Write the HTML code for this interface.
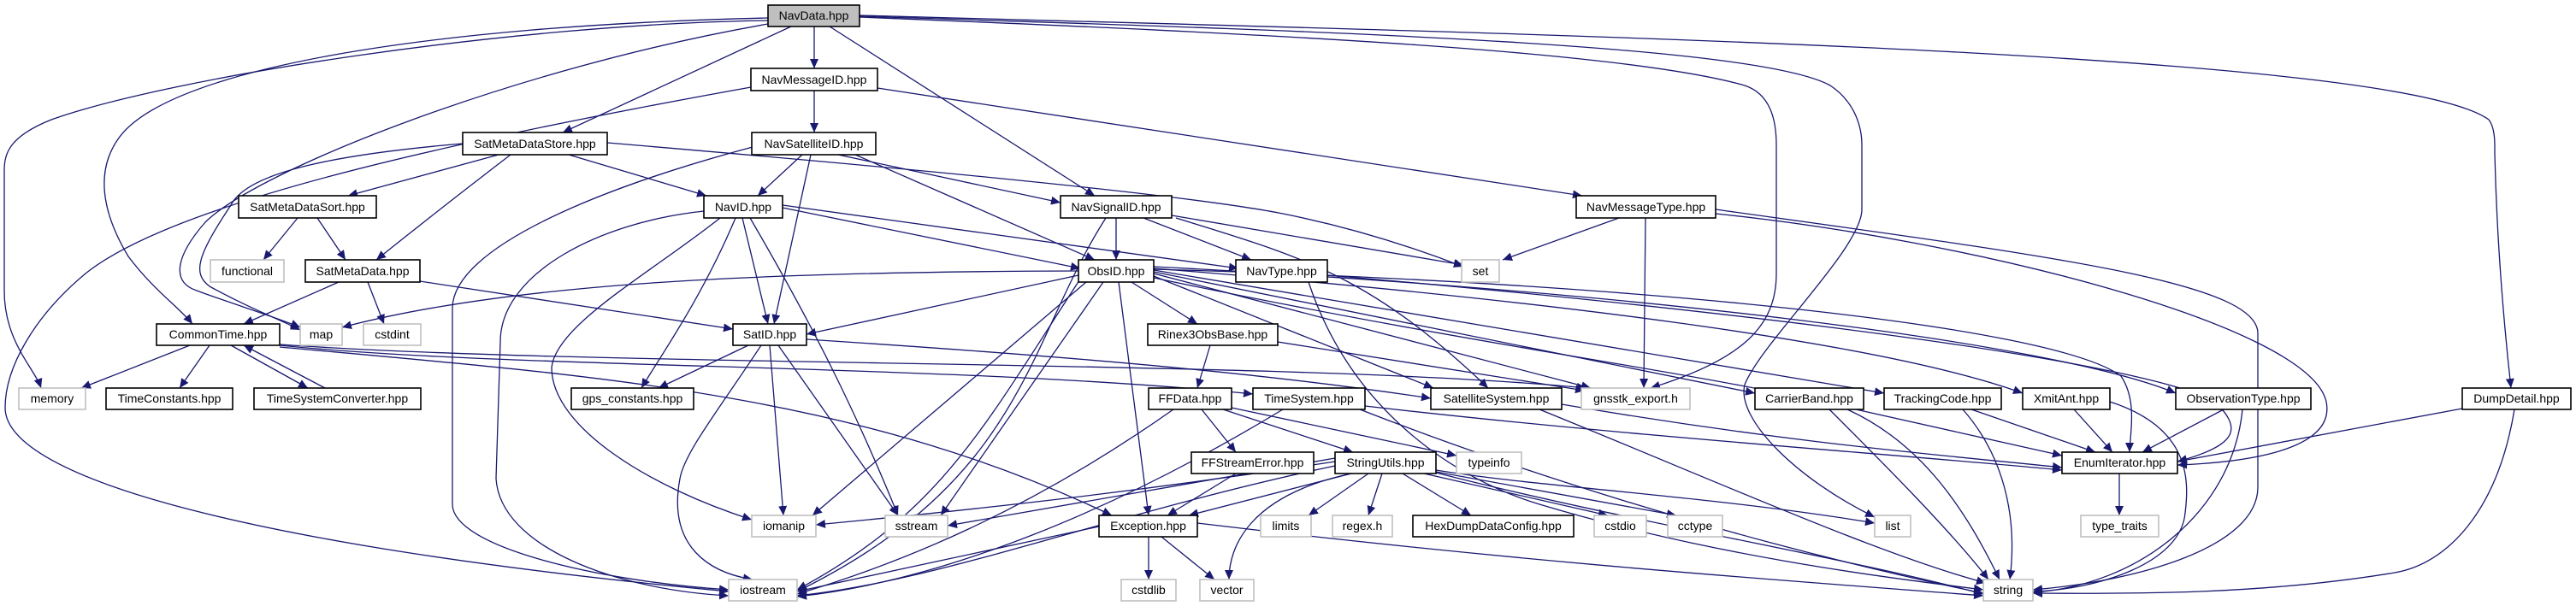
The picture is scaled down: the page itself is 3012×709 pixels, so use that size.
<!DOCTYPE html>
<html><head><meta charset="utf-8"><style>
html,body{margin:0;padding:0;background:#fff;width:3012px;height:709px;overflow:hidden}
svg{display:block}
text{font-family:"Liberation Sans","DejaVu Sans",sans-serif;font-size:14px;fill:#000}
.e{fill:none;stroke:#191970;stroke-width:1.3;marker-end:url(#a)}
.n{fill:#fff;stroke:#000;stroke-width:1.6}
.g{fill:#fff;stroke:#bfbfbf;stroke-width:1.6}
</style></head><body>
<svg width="3012" height="709" viewBox="0 0 3012 709" xmlns="http://www.w3.org/2000/svg">
<defs><marker id="a" markerUnits="userSpaceOnUse" markerWidth="12" markerHeight="10" refX="11" refY="5" orient="auto"><path d="M0,0 L11,5 L0,10 z" fill="#191970"/></marker></defs>
<g>
<!-- NavData -->
<path class="e" d="M898,24 C600,28 200,90 60,140 C10,160 5,180 5,200 L5,340 C5,400 40,430 48,454"/>
<path class="e" d="M898,21 C500,30 200,80 140,160 C110,200 120,250 150,300 C180,340 210,360 225,379"/>
<path class="e" d="M898,28 C600,80 300,200 240,260 C205,300 200,330 230,340 C270,355 320,370 351,383"/>
<path class="e" d="M925,31 L658,155"/>
<path class="e" d="M952,31 L952,80"/>
<path class="e" d="M970,31 L1280,229"/>
<path class="e" d="M1005,20 C1500,40 1900,60 2040,100 C2070,110 2077,140 2077,170 L2077,320 C2077,380 2040,420 1930,454"/>
<path class="e" d="M1005,19 C1500,35 2050,50 2140,100 C2170,120 2177,150 2177,170 L2177,245 C2177,290 2060,400 2040,450 C2030,490 2100,560 2192,605"/>
<path class="e" d="M1005,18 C1800,40 2800,60 2910,140 C2918,150 2917,170 2917,180 C2920,300 2930,400 2936,454"/>
<!-- NavMessageID -->
<path class="e" d="M952,106 L952,155"/>
<path class="e" d="M1026,103 L1850,229"/>
<path class="e" d="M878,102 C500,170 200,240 100,320 C40,370 6,430 6,477 C6,560 300,640 852,692"/>
<!-- SatMetaDataStore -->
<path class="e" d="M583,181 L407,229"/>
<path class="e" d="M597,181 C520,240 470,280 440,304"/>
<path class="e" d="M665,181 L826,229"/>
<path class="e" d="M710,167 C1100,200 1400,230 1500,250 C1600,270 1680,300 1711,312"/>
<path class="e" d="M541,168 C400,180 290,200 270,240 C230,300 225,320 245,335 C290,360 330,375 351,386"/>
<!-- NavSatelliteID -->
<path class="e" d="M938,181 L886,229"/>
<path class="e" d="M948,181 L905,379"/>
<path class="e" d="M980,181 L1240,237"/>
<path class="e" d="M1000,181 L1280,304"/>
<path class="e" d="M880,172 C700,220 530,290 529,360 L529,590 C529,640 700,680 852,690"/>
<!-- SatMetaDataSort / SatMetaData -->
<path class="e" d="M348,255 L308,304"/>
<path class="e" d="M371,255 L404,304"/>
<path class="e" d="M396,330 L285,379"/>
<path class="e" d="M430,330 L449,379"/>
<path class="e" d="M491,329 L857,385"/>
<!-- NavID -->
<path class="e" d="M915,243 L1263,314"/>
<path class="e" d="M915,240 L1448,314"/>
<path class="e" d="M868,255 L898,379"/>
<path class="e" d="M860,255 C820,350 770,420 750,454"/>
<path class="e" d="M842,255 C760,320 650,380 645,430 C645,500 760,570 879,608"/>
<path class="e" d="M823,247 C700,260 585,320 585,400 L580,560 C585,640 720,690 852,697"/>
<path class="e" d="M877,255 C950,380 1000,480 1050,603"/>
<!-- SatID -->
<path class="e" d="M875,404 L770,454"/>
<path class="e" d="M900,404 L916,603"/>
<path class="e" d="M890,404 C840,480 800,530 795,560 C780,640 830,670 880,678"/>
<path class="e" d="M910,404 L1050,603"/>
<path class="e" d="M943,397 C1300,420 1500,440 1673,466"/>
<!-- CommonTime -->
<path class="e" d="M222,404 L95,454"/>
<path class="e" d="M245,404 L210,454"/>
<path class="e" d="M270,404 L360,454"/>
<path class="e" d="M380,454 L285,404"/>
<path class="e" d="M327,404 C600,432 1100,425 1465,461"/>
<path class="e" d="M327,406 C700,440 1000,460 1300,603"/>
<path class="e" d="M327,403 C700,430 1500,420 1855,454"/>
<!-- NavSignalID -->
<path class="e" d="M1305,255 L1305,304"/>
<path class="e" d="M1337,255 L1463,304"/>
<path class="e" d="M1370,252 L1711,310"/>
<path class="e" d="M1375,255 C1520,300 1600,320 1740,454"/>
<path class="e" d="M1293,255 C1200,400 1200,560 932,692"/>
<!-- NavMessageType -->
<path class="e" d="M1893,255 L1757,304"/>
<path class="e" d="M1924,255 L1922,454"/>
<path class="e" d="M2006,250 C2300,280 2700,380 2720,470 C2730,520 2650,540 2546,544"/>
<path class="e" d="M2006,245 C2400,300 2640,330 2640,390 L2640,570 C2640,640 2500,680 2377,690"/>
<!-- ObsID -->
<path class="e" d="M1261,317 C900,318 600,330 400,383"/>
<path class="e" d="M1261,322 L943,391"/>
<path class="e" d="M1323,330 L1400,379"/>
<path class="e" d="M1308,330 L1343,603"/>
<path class="e" d="M1290,330 L1100,603"/>
<path class="e" d="M1270,330 L950,603"/>
<path class="e" d="M1262,328 C1150,500 1100,600 932,690"/>
<path class="e" d="M1349,320 L1860,454"/>
<path class="e" d="M1349,323 L1676,454"/>
<path class="e" d="M1349,318 L2052,460"/>
<path class="e" d="M1349,316 L2203,460"/>
<path class="e" d="M1349,314 C1800,350 2200,400 2365,460"/>
<path class="e" d="M1349,312 C1900,340 2400,400 2544,460"/>
<path class="e" d="M1349,315 C1900,330 2400,380 2480,440 C2500,470 2490,510 2490,529"/>
<path class="e" d="M1349,325 C1800,420 2100,450 2140,480 C2200,540 2280,620 2325,678"/>
<!-- NavType -->
<path class="e" d="M1552,322 C2000,360 2500,420 2590,470 C2620,500 2620,520 2546,540"/>
<path class="e" d="M1530,330 C1580,480 1700,560 1800,590 C2000,650 2200,675 2319,690"/>
<!-- Rinex3ObsBase -->
<path class="e" d="M1415,404 L1400,454"/>
<path class="e" d="M1494,400 L1853,457"/>
<!-- FFData -->
<path class="e" d="M1405,479 L1445,529"/>
<path class="e" d="M1430,479 L1582,529"/>
<path class="e" d="M1440,477 L1703,533"/>
<path class="e" d="M1372,479 C1200,600 1050,660 932,695"/>
<!-- TimeSystem -->
<path class="e" d="M1500,479 C1300,600 1100,680 932,698"/>
<path class="e" d="M1596,475 C1900,510 2200,530 2411,550"/>
<path class="e" d="M1590,479 C1900,600 2200,670 2319,694"/>
<!-- SatelliteSystem -->
<path class="e" d="M1826,473 C2100,520 2300,535 2411,547"/>
<path class="e" d="M1800,479 C2000,560 2200,650 2322,682"/>
<!-- second-row headers -->
<path class="e" d="M2170,479 L2411,533"/>
<path class="e" d="M2160,479 C2250,520 2300,600 2338,678"/>
<path class="e" d="M2305,479 L2450,529"/>
<path class="e" d="M2295,479 C2340,530 2360,600 2350,678"/>
<path class="e" d="M2425,479 L2470,529"/>
<path class="e" d="M2467,470 C2560,500 2560,560 2555,600 C2550,660 2450,690 2377,692"/>
<path class="e" d="M2600,479 L2505,529"/>
<path class="e" d="M2622,479 C2610,600 2500,685 2377,693"/>
<path class="e" d="M2879,478 L2546,540"/>
<path class="e" d="M2940,479 C2920,600 2860,660 2800,670 C2650,695 2500,695 2377,694"/>
<path class="e" d="M2478,554 L2478,603"/>
<!-- StringUtils -->
<path class="e" d="M1561,536 L1108,615"/>
<path class="e" d="M1580,554 L1390,603"/>
<path class="e" d="M1600,554 L1530,603"/>
<path class="e" d="M1616,554 L1600,603"/>
<path class="e" d="M1640,554 L1720,603"/>
<path class="e" d="M1665,554 L1880,603"/>
<path class="e" d="M1679,552 L1960,603"/>
<path class="e" d="M1679,550 C1800,570 2000,580 2192,612"/>
<path class="e" d="M1679,553 C1900,610 2150,650 2319,695"/>
<path class="e" d="M1580,554 C1460,580 1437,640 1437,678"/>
<path class="e" d="M1561,545 C1300,600 1100,680 932,697"/>
<path class="e" d="M1561,540 C1300,580 1100,600 954,614"/>
<!-- FFStreamError / Exception -->
<path class="e" d="M1445,554 L1365,603"/>
<path class="e" d="M1343,628 L1343,678"/>
<path class="e" d="M1358,628 L1420,678"/>
<path class="e" d="M1400,612 C1800,660 2100,680 2319,697"/>
<path class="e" d="M1285,616 L932,692"/>
</g>
<!-- nodes -->
<g>
<rect x="898" y="6" width="107" height="25" fill="#bfbfbf" stroke="#000" stroke-width="1.6"/><text x="951.5" y="23" text-anchor="middle">NavData.hpp</text>
<rect class="n" x="878" y="80" width="148" height="26"/><text x="952" y="98" text-anchor="middle">NavMessageID.hpp</text>
<rect class="n" x="541" y="155" width="169" height="26"/><text x="625.5" y="173" text-anchor="middle">SatMetaDataStore.hpp</text>
<rect class="n" x="879" y="155" width="145" height="26"/><text x="951.5" y="173" text-anchor="middle">NavSatelliteID.hpp</text>
<rect class="n" x="279" y="229" width="161" height="26"/><text x="359.5" y="247" text-anchor="middle">SatMetaDataSort.hpp</text>
<rect class="n" x="823" y="229" width="92" height="26"/><text x="869" y="247" text-anchor="middle">NavID.hpp</text>
<rect class="n" x="1240" y="229" width="130" height="26"/><text x="1305" y="247" text-anchor="middle">NavSignalID.hpp</text>
<rect class="n" x="1843" y="229" width="163" height="26"/><text x="1924.5" y="247" text-anchor="middle">NavMessageType.hpp</text>
<rect class="g" x="246" y="304" width="86" height="26"/><text x="289" y="322" text-anchor="middle">functional</text>
<rect class="n" x="357" y="304" width="134" height="26"/><text x="424" y="322" text-anchor="middle">SatMetaData.hpp</text>
<rect class="n" x="1261" y="304" width="88" height="26"/><text x="1305" y="322" text-anchor="middle">ObsID.hpp</text>
<rect class="n" x="1445" y="304" width="107" height="26"/><text x="1498.5" y="322" text-anchor="middle">NavType.hpp</text>
<rect class="g" x="1709" y="304" width="44" height="26"/><text x="1731" y="322" text-anchor="middle">set</text>
<rect class="n" x="183" y="379" width="144" height="25"/><text x="255" y="396" text-anchor="middle">CommonTime.hpp</text>
<rect class="g" x="351" y="379" width="49" height="25"/><text x="375.5" y="396" text-anchor="middle">map</text>
<rect class="g" x="425" y="379" width="67" height="25"/><text x="458.5" y="396" text-anchor="middle">cstdint</text>
<rect class="n" x="857" y="379" width="86" height="25"/><text x="900" y="396" text-anchor="middle">SatID.hpp</text>
<rect class="n" x="1342" y="379" width="152" height="25"/><text x="1418" y="396" text-anchor="middle">Rinex3ObsBase.hpp</text>
<rect class="g" x="22" y="454" width="78" height="25"/><text x="61" y="471" text-anchor="middle">memory</text>
<rect class="n" x="124" y="454" width="148" height="25"/><text x="198" y="471" text-anchor="middle">TimeConstants.hpp</text>
<rect class="n" x="297" y="454" width="195" height="25"/><text x="394.5" y="471" text-anchor="middle">TimeSystemConverter.hpp</text>
<rect class="n" x="668" y="454" width="143" height="25"/><text x="739.5" y="471" text-anchor="middle">gps_constants.hpp</text>
<rect class="n" x="1343" y="454" width="97" height="25"/><text x="1391.5" y="471" text-anchor="middle">FFData.hpp</text>
<rect class="n" x="1465" y="454" width="131" height="25"/><text x="1530.5" y="471" text-anchor="middle">TimeSystem.hpp</text>
<rect class="n" x="1673" y="454" width="153" height="25"/><text x="1749.5" y="471" text-anchor="middle">SatelliteSystem.hpp</text>
<rect class="g" x="1849" y="454" width="127" height="25"/><text x="1912.5" y="471" text-anchor="middle">gnsstk_export.h</text>
<rect class="n" x="2052" y="454" width="127" height="25"/><text x="2115.5" y="471" text-anchor="middle">CarrierBand.hpp</text>
<rect class="n" x="2203" y="454" width="137" height="25"/><text x="2271.5" y="471" text-anchor="middle">TrackingCode.hpp</text>
<rect class="n" x="2365" y="454" width="102" height="25"/><text x="2416" y="471" text-anchor="middle">XmitAnt.hpp</text>
<rect class="n" x="2544" y="454" width="158" height="25"/><text x="2623" y="471" text-anchor="middle">ObservationType.hpp</text>
<rect class="n" x="2879" y="454" width="127" height="25"/><text x="2942.5" y="471" text-anchor="middle">DumpDetail.hpp</text>
<rect class="n" x="1393" y="529" width="143" height="25"/><text x="1464.5" y="546" text-anchor="middle">FFStreamError.hpp</text>
<rect class="n" x="1561" y="529" width="118" height="25"/><text x="1620" y="546" text-anchor="middle">StringUtils.hpp</text>
<rect class="g" x="1703" y="529" width="76" height="25"/><text x="1741" y="546" text-anchor="middle">typeinfo</text>
<rect class="n" x="2411" y="529" width="135" height="25"/><text x="2478.5" y="546" text-anchor="middle">EnumIterator.hpp</text>
<rect class="g" x="879" y="603" width="75" height="25"/><text x="916.5" y="620" text-anchor="middle">iomanip</text>
<rect class="g" x="1035" y="603" width="73" height="25"/><text x="1071.5" y="620" text-anchor="middle">sstream</text>
<rect class="n" x="1285" y="603" width="115" height="25"/><text x="1342.5" y="620" text-anchor="middle">Exception.hpp</text>
<rect class="g" x="1474" y="603" width="59" height="25"/><text x="1503.5" y="620" text-anchor="middle">limits</text>
<rect class="g" x="1558" y="603" width="70" height="25"/><text x="1593" y="620" text-anchor="middle">regex.h</text>
<rect class="n" x="1652" y="603" width="188" height="25"/><text x="1746" y="620" text-anchor="middle">HexDumpDataConfig.hpp</text>
<rect class="g" x="1864" y="603" width="61" height="25"/><text x="1894.5" y="620" text-anchor="middle">cstdio</text>
<rect class="g" x="1950" y="603" width="64" height="25"/><text x="1982" y="620" text-anchor="middle">cctype</text>
<rect class="g" x="2192" y="603" width="42" height="25"/><text x="2213" y="620" text-anchor="middle">list</text>
<rect class="g" x="2433" y="603" width="91" height="25"/><text x="2478.5" y="620" text-anchor="middle">type_traits</text>
<rect class="g" x="852" y="678" width="80" height="25"/><text x="892" y="695" text-anchor="middle">iostream</text>
<rect class="g" x="1311" y="678" width="64" height="25"/><text x="1343" y="695" text-anchor="middle">cstdlib</text>
<rect class="g" x="1403" y="678" width="63" height="25"/><text x="1434.5" y="695" text-anchor="middle">vector</text>
<rect class="g" x="2319" y="678" width="58" height="25"/><text x="2348" y="695" text-anchor="middle">string</text>
</g>
</svg>
</body></html>
